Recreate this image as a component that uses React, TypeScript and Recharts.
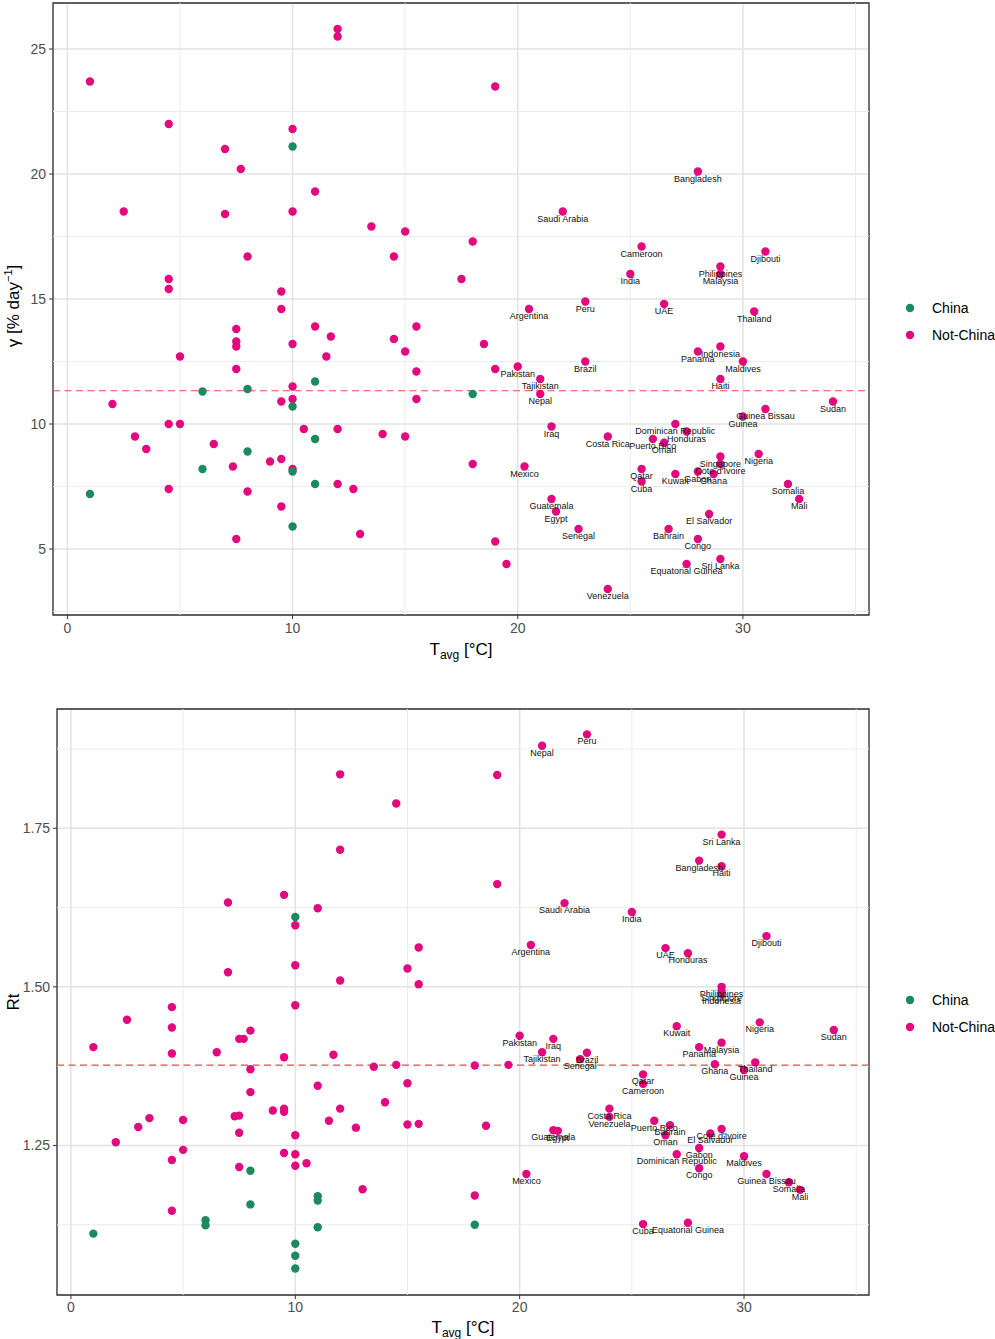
import React from "react";
import {
  ScatterChart,
  Scatter,
  XAxis,
  YAxis,
  CartesianGrid,
  ReferenceLine,
  ReferenceArea,
} from "recharts";

const FONT = "'Liberation Sans', Arial, Helvetica, sans-serif";
const GREEN = "#1B8A5E";
const PINK = "#E3087E";

// labelled countries: mean temperature, growth rate gamma, reproduction number Rt
const countryNames = [
  "Bangladesh", "Saudi Arabia", "Cameroon", "Djibouti", "India", "Philippines",
  "Malaysia", "Argentina", "Peru", "UAE", "Thailand", "Panama", "Indonesia",
  "Maldives", "Brazil", "Pakistan", "Tajikistan", "Haiti", "Nepal", "Sudan",
  "Guinea Bissau", "Guinea", "Iraq", "Dominican Republic", "Honduras",
  "Costa Rica", "Puerto Rico", "Oman", "Nigeria", "Singapore", "Cote d'Ivoire",
  "Gabon", "Ghana", "Kuwait", "Qatar", "Cuba", "Mexico", "Somalia", "Mali",
  "Guatemala", "Egypt", "El Salvador", "Senegal", "Bahrain", "Congo",
  "Sri Lanka", "Equatorial Guinea", "Venezuela",
];
const countryTavg = [
  28, 22, 25.5, 31, 25, 29, 29, 20.5, 23, 26.5, 30.5, 28, 29, 30, 23, 20, 21, 29,
  21, 34, 31, 30, 21.5, 27, 27.5, 24, 26, 26.5, 30.7, 29, 29, 28, 28.7, 27, 25.5,
  25.5, 20.3, 32, 32.5, 21.5, 21.7, 28.5, 22.7, 26.7, 28, 29, 27.5, 24,
];
const countryGamma = [
  20.1, 18.5, 17.1, 16.9, 16.0, 16.3, 16.0, 14.6, 14.9, 14.8, 14.5, 12.9, 13.1,
  12.5, 12.5, 12.3, 11.8, 11.8, 11.2, 10.9, 10.6, 10.3, 9.9, 10.0, 9.7, 9.5, 9.4,
  9.25, 8.8, 8.7, 8.4, 8.1, 8.0, 8.0, 8.2, 7.7, 8.3, 7.6, 7.0, 7.0, 6.5, 6.4, 5.8,
  5.8, 5.4, 4.6, 4.4, 3.4,
];
const countryRt = [
  1.699, 1.632, 1.347, 1.58, 1.618, 1.5, 1.412, 1.566, 1.898, 1.561, 1.381,
  1.405, 1.489, 1.233, 1.396, 1.423, 1.397, 1.69, 1.88, 1.432, 1.205, 1.369,
  1.418, 1.236, 1.553, 1.308, 1.289, 1.266, 1.444, 1.494, 1.276, 1.246, 1.378,
  1.438, 1.362, 1.126, 1.205, 1.192, 1.18, 1.274, 1.273, 1.269, 1.386, 1.282,
  1.214, 1.74, 1.128, 1.295,
];

// unlabelled non-China points, top panel (gamma)
const otherTopT = [
  1, 12, 12, 19, 4.5, 10, 7, 7.7, 11, 2.5, 7, 10, 13.5, 15, 18, 8, 14.5, 4.5, 4.5,
  17.5, 9.5, 9.5, 7.5, 11, 15.5, 7.5, 7.5, 11.7, 14.5, 10, 18.5, 15, 5, 11.5, 7.5,
  15.5, 19, 10, 10, 9.5, 15.5, 2, 4.5, 5, 3, 3.5, 6.5, 10.5, 12, 14, 15, 9, 9.5,
  10, 7.35, 18, 4.5, 8, 12, 12.7, 9.5, 7.5, 13, 19, 19.5,
];
const otherTopGamma = [
  23.7, 25.8, 25.5, 23.5, 22, 21.8, 21, 20.2, 19.3, 18.5, 18.4, 18.5, 17.9, 17.7,
  17.3, 16.7, 16.7, 15.8, 15.4, 15.8, 15.3, 14.6, 13.8, 13.9, 13.9, 13.3, 13.1,
  13.5, 13.4, 13.2, 13.2, 12.9, 12.7, 12.7, 12.2, 12.1, 12.2, 11.5, 11, 10.9, 11,
  10.8, 10, 10, 9.5, 9, 9.2, 9.8, 9.8, 9.6, 9.5, 8.5, 8.6, 8.2, 8.3, 8.4, 7.4, 7.3,
  7.6, 7.4, 6.7, 5.4, 5.6, 5.3, 4.4,
];
const chinaTopT = [10, 11, 6, 8, 10, 18, 11, 8, 10, 6, 1, 11, 10];
const chinaTopGamma = [21.1, 11.7, 11.3, 11.4, 10.7, 11.2, 9.4, 8.9, 8.1, 8.2, 7.2, 7.6, 5.9];

// unlabelled non-China points, bottom panel (Rt)
const otherBotT = [
  12, 19, 14.5, 12, 19, 9.5, 7, 11, 10, 15.5, 15, 10, 7, 12, 15.5, 10, 4.5, 2.5,
  4.5, 8, 7.5, 7.7, 1, 4.5, 6.5, 9.5, 11.7, 13.5, 14.5, 18, 19.5, 8, 8, 11, 15, 14,
  12, 9, 9.5, 9.5, 7.3, 7.5, 3.5, 5, 3, 11.5, 12.7, 15, 15.5, 18.5, 7.5, 10, 2, 5,
  9.5, 10, 10.5, 10, 4.5, 7.5, 13, 18, 4.5,
];
const otherBotRt = [
  1.835, 1.834, 1.789, 1.716, 1.662, 1.645, 1.633, 1.624, 1.597, 1.562, 1.529,
  1.534, 1.523, 1.51, 1.504, 1.471, 1.468, 1.448, 1.436, 1.431, 1.418, 1.418,
  1.405, 1.395, 1.397, 1.389, 1.393, 1.374, 1.377, 1.376, 1.377, 1.37, 1.334,
  1.344, 1.348, 1.318, 1.308, 1.305, 1.308, 1.303, 1.296, 1.297, 1.293, 1.29,
  1.279, 1.289, 1.278, 1.283, 1.284, 1.281, 1.27, 1.266, 1.255, 1.243, 1.238,
  1.236, 1.222, 1.218, 1.227, 1.216, 1.181, 1.171, 1.147,
];
const chinaBotT = [10, 8, 11, 11, 8, 6, 6, 11, 18, 1, 10, 10, 10];
const chinaBotRt = [1.61, 1.21, 1.17, 1.163, 1.157, 1.132, 1.124, 1.121, 1.125, 1.111, 1.095, 1.076, 1.056];

const meanGamma = 11.33;
const meanRt = 1.3765;

const xTicks = [0, 10, 20, 30];
const xMinor = [5, 15, 25, 35];
const gammaTicks = [5, 10, 15, 20, 25];
const gammaMinor = [2.5, 7.5, 12.5, 17.5, 22.5];
const rtTicks = [1.25, 1.5, 1.75];
const rtMinor = [1.125, 1.375, 1.625, 1.875];

type Pt = { x: number; y: number; name?: string };

const zip = (xs: number[], ys: number[], names?: string[]): Pt[] =>
  xs.map((x, i) => ({ x, y: ys[i], name: names ? names[i] : undefined }));

const labeledTop = zip(countryTavg, countryGamma, countryNames);
const labeledBot = zip(countryTavg, countryRt, countryNames);
const pinkTop = [...zip(otherTopT, otherTopGamma), ...labeledTop];
const pinkBot = [...zip(otherBotT, otherBotRt), ...labeledBot];
const greenTop = zip(chinaTopT, chinaTopGamma);
const greenBot = zip(chinaBotT, chinaBotRt);

const dotShape = (fill: string) => (p: any) =>
  <circle cx={p.cx} cy={p.cy} r={4.2} fill={fill} />;

const nameShape = (p: any) => (
  <text
    x={p.cx}
    y={p.cy + 10}
    textAnchor="middle"
    fontSize={9}
    fontFamily={FONT}
    fill="#111"
  >
    {p.payload?.name}
  </text>
);

const tickStyle = { fill: "#4D4D4D", fontSize: 14, fontFamily: FONT };

type PanelProps = {
  height: number;
  margin: { top: number; right: number; bottom: number; left: number };
  yAxisWidth: number;
  xAxisHeight: number;
  xTickMargin: number;
  xDomain: [number, number];
  yDomain: [number, number];
  yTicks: number[];
  yMinor: number[];
  pink: Pt[];
  green: Pt[];
  labeled: Pt[];
  mean: number;
  fmt: (v: number) => string;
};

const Panel = (props: PanelProps) => {
  const { xDomain, yDomain } = props;
  return (
    <ScatterChart width={995} height={props.height} margin={props.margin}>
      <CartesianGrid stroke="#E2E2E2" strokeWidth={1.5} />
      {xMinor.map((v) => (
        <ReferenceLine key={"mx" + v} x={v} stroke="#EAEAEA" strokeWidth={0.9} />
      ))}
      {props.yMinor.map((v) => (
        <ReferenceLine key={"my" + v} y={v} stroke="#EAEAEA" strokeWidth={0.9} />
      ))}
      <XAxis
        type="number"
        dataKey="x"
        domain={xDomain}
        ticks={xTicks}
        allowDataOverflow
        interval={0}
        height={props.xAxisHeight}
        tickSize={4}
        tickMargin={props.xTickMargin}
        axisLine={false}
        tickLine={{ stroke: "#333" }}
        tick={tickStyle}
      />
      <YAxis
        type="number"
        dataKey="y"
        domain={yDomain}
        ticks={props.yTicks}
        allowDataOverflow
        interval={0}
        width={props.yAxisWidth}
        tickSize={4}
        tickMargin={3}
        axisLine={false}
        tickLine={{ stroke: "#333" }}
        tick={tickStyle}
        tickFormatter={props.fmt}
      />
      <ReferenceLine
        y={props.mean}
        stroke="#EE4A4C"
        strokeDasharray="7 4.5"
        strokeWidth={1.2}
      />
      <Scatter data={props.pink} shape={dotShape(PINK)} isAnimationActive={false} />
      <Scatter data={props.green} shape={dotShape(GREEN)} isAnimationActive={false} />
      <Scatter data={props.labeled} shape={nameShape} isAnimationActive={false} />
      <ReferenceArea
        x1={xDomain[0]}
        x2={xDomain[1]}
        y1={yDomain[0]}
        y2={yDomain[1]}
        fill="none"
        fillOpacity={0}
        stroke="#333"
        strokeWidth={1.3}
      />
    </ScatterChart>
  );
};

const LegendItems = ({ top }: { top: number }) => (
  <g fontFamily={FONT} fontSize={14} fill="#000">
    <circle cx={910} cy={top} r={4.2} fill={GREEN} />
    <text x={932} y={top + 5}>China</text>
    <circle cx={910} cy={top + 27} r={4.2} fill={PINK} />
    <text x={932} y={top + 32}>Not-China</text>
  </g>
);

export default function App() {
  return (
    <div style={{ position: "absolute", left: 0, top: 0, width: 995, height: 1339, background: "#fff" }}>
      <div style={{ position: "absolute", left: 0, top: 0 }}>
        <Panel
          height={670}
          margin={{ top: 3, right: 126, bottom: 0, left: 0 }}
          yAxisWidth={53}
          xAxisHeight={55}
          xTickMargin={4}
          xDomain={[-0.64, 35.6]}
          yDomain={[2.36, 26.84]}
          yTicks={gammaTicks}
          yMinor={gammaMinor}
          pink={pinkTop}
          green={greenTop}
          labeled={labeledTop}
          mean={meanGamma}
          fmt={(v) => String(v)}
        />
      </div>
      <div style={{ position: "absolute", left: 0, top: 680 }}>
        <Panel
          height={659}
          margin={{ top: 29, right: 126, bottom: 0, left: 0 }}
          yAxisWidth={57}
          xAxisHeight={44}
          xTickMargin={3}
          xDomain={[-0.62, 35.57]}
          yDomain={[1.0142, 1.938]}
          yTicks={rtTicks}
          yMinor={rtMinor}
          pink={pinkBot}
          green={greenBot}
          labeled={labeledBot}
          mean={meanRt}
          fmt={(v) => v.toFixed(2)}
        />
      </div>
      <svg
        width={995}
        height={1339}
        style={{ position: "absolute", left: 0, top: 0, pointerEvents: "none" }}
      >
        <LegendItems top={308} />
        <LegendItems top={1000} />
        <g fontFamily={FONT} fontSize={17} fill="#000">
          <text x={461} y={655} textAnchor="middle">
            T<tspan fontSize={12} dy={4}>avg</tspan>
            <tspan dy={-4}> [°C]</tspan>
          </text>
          <text x={463} y={1333} textAnchor="middle">
            T<tspan fontSize={12} dy={4}>avg</tspan>
            <tspan dy={-4}> [°C]</tspan>
          </text>
          <text x={19} y={306} textAnchor="middle" transform="rotate(-90 19 306)">
            γ [% day<tspan fontSize={11} dy={-7}>−1</tspan>
            <tspan dy={7}>]</tspan>
          </text>
          <text x={19} y={1002} textAnchor="middle" transform="rotate(-90 19 1002)">
            Rt
          </text>
        </g>
      </svg>
    </div>
  );
}
